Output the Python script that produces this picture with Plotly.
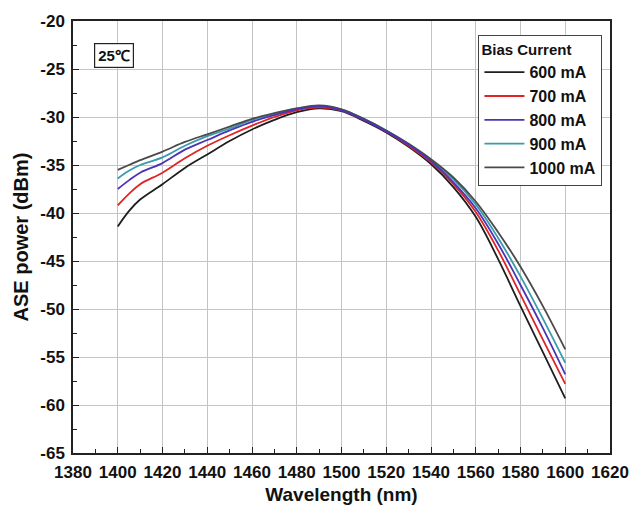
import plotly.graph_objects as go

wavelength = [1400, 1405, 1410, 1420, 1430, 1440, 1450, 1460, 1470, 1480, 1490,
              1500, 1510, 1520, 1530, 1540, 1550, 1560, 1570, 1580, 1590, 1600]

p600 = [-41.4, -39.8, -38.6, -37.0, -35.3, -33.9, -32.5, -31.3, -30.3, -29.5, -29.1,
        -29.4, -30.4, -31.6, -33.1, -34.9, -37.3, -40.4, -44.8, -49.7, -54.5, -59.3]
p700 = [-39.2, -38.0, -37.0, -35.8, -34.3, -33.0, -31.9, -30.9, -30.0, -29.3, -29.0,
        -29.3, -30.3, -31.5, -33.0, -34.7, -37.0, -39.9, -43.9, -48.5, -53.2, -57.8]
p800 = [-37.5, -36.6, -35.8, -34.8, -33.4, -32.4, -31.4, -30.5, -29.8, -29.2, -28.9,
        -29.3, -30.3, -31.5, -32.9, -34.6, -36.8, -39.5, -43.2, -47.5, -52.0, -56.8]
p900 = [-36.4, -35.6, -35.0, -34.2, -33.0, -32.0, -31.2, -30.3, -29.7, -29.1, -28.9,
        -29.2, -30.2, -31.4, -32.8, -34.5, -36.5, -39.1, -42.6, -46.6, -51.0, -55.6]
p1000 = [-35.5, -35.0, -34.5, -33.6, -32.6, -31.8, -31.0, -30.2, -29.6, -29.1, -28.8,
         -29.2, -30.2, -31.4, -32.8, -34.4, -36.3, -38.8, -42.0, -45.6, -49.7, -54.2]

series_names = ["600 mA", "700 mA", "800 mA", "900 mA", "1000 mA"]
series_values = [p600, p700, p800, p900, p1000]
colors = ["#1e1e1e", "#e02424", "#4a34b8", "#3a9caa", "#4a4a4a"]
draw_order = [0, 1, 3, 4, 2]

x_ticks = list(range(1380, 1621, 20))
y_ticks = list(range(-65, -19, 5))

font_family = "Liberation Sans, Arial, sans-serif"

fig = go.Figure()
for i in draw_order:
    fig.add_trace(go.Scatter(
        x=wavelength, y=series_values[i], name=series_names[i],
        mode="lines", line=dict(color=colors[i], width=1.8, shape="spline"),
        legendrank=i + 1,
    ))

axis_common = dict(
    showline=True, linecolor="#222222", linewidth=1.5, mirror=True,
    showgrid=True, gridcolor="#c4c4c4", gridwidth=1,
    ticks="inside", ticklen=6, tickcolor="#222222", tickwidth=1.2,
    zeroline=False, ticklabelstandoff=3,
    tickfont=dict(family=font_family, size=17, color="#111111", weight="bold"),
)

fig.update_xaxes(
    range=[1380, 1620], tickvals=x_ticks, ticktext=[str(v) for v in x_ticks],
    minor=dict(dtick=10, ticks="inside", ticklen=4, tickcolor="#222222", showgrid=False),
    title=dict(text="Wavelength (nm)", standoff=7,
               font=dict(family=font_family, size=19, color="#111111", weight="bold")),
    **axis_common,
)
fig.update_yaxes(
    range=[-65, -20], tickvals=y_ticks, ticktext=[str(v) for v in y_ticks],
    minor=dict(dtick=2.5, ticks="inside", ticklen=4, tickcolor="#222222", showgrid=False),
    title=dict(text="ASE power (dBm)", standoff=6,
               font=dict(family=font_family, size=20, color="#111111", weight="bold")),
    **axis_common,
)

fig.add_annotation(
    x=0.04, y=0.95, xref="paper", yref="paper", xanchor="left", yanchor="top",
    text="<b>25℃</b>", showarrow=False,
    font=dict(family=font_family, size=15, color="#111111"),
    bordercolor="#222222", borderwidth=1.2, borderpad=3, bgcolor="white",
)

fig.update_layout(
    width=641, height=514,
    margin=dict(l=73, r=21, t=19, b=56),
    paper_bgcolor="white", plot_bgcolor="white",
    showlegend=True,
    legend=dict(
        x=0.755, y=0.968, xanchor="left", yanchor="top",
        bgcolor="white", bordercolor="#444444", borderwidth=1,
        title=dict(text="<b>Bias Current</b>",
                   font=dict(family=font_family, size=15, color="#111111")),
        font=dict(family=font_family, size=16, color="#111111", weight="bold"),
        itemwidth=40, tracegroupgap=0,
    ),
)

fig.write_html("out.html")
